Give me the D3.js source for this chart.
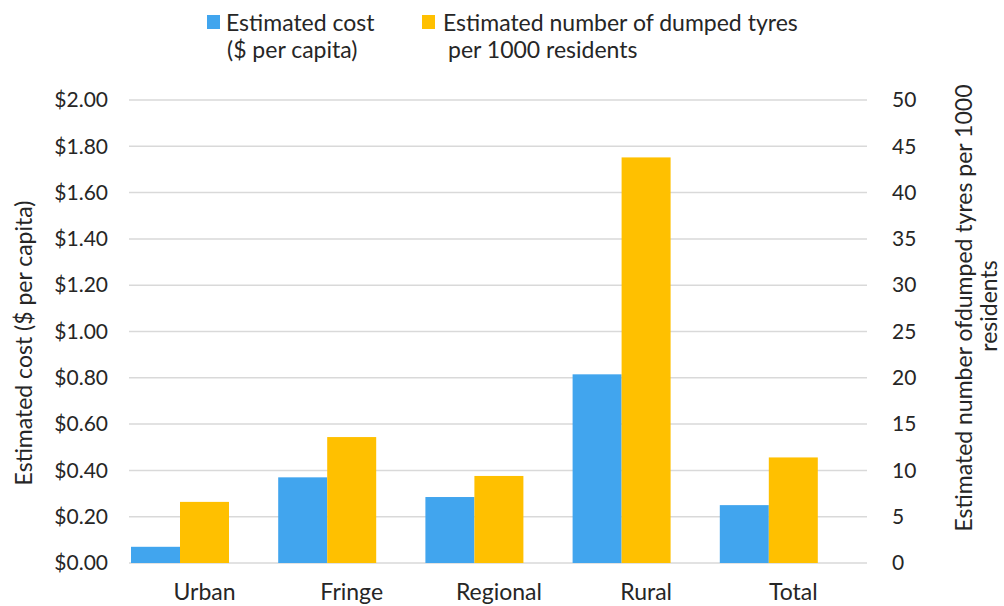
<!DOCTYPE html>
<html><head><meta charset="utf-8">
<script src="https://cdn.jsdelivr.net/npm/d3@7"></script>
<style>body{margin:0;background:#fff}svg text{font-family:Lato,"Open Sans",sans-serif;fill:#262626}</style>
</head><body><svg id="c" width="1004" height="606"></svg>
<script>
const categories = ["Urban","Fringe","Regional","Rural","Total"];
const costValues = [0.07, 0.37, 0.285, 0.815, 0.25];
const tyreValues = [6.6, 13.6, 9.4, 43.8, 11.4];
const leftTicks = [0,0.2,0.4,0.6,0.8,1.0,1.2,1.4,1.6,1.8,2.0];
const rightTicks = [0,5,10,15,20,25,30,35,40,45,50];

const svg = d3.select("#c");
const L = 131, R = 867, T = 100, B = 563;
const fs = 23, tfs = 21;
const x0 = d3.scaleBand().domain(categories).range([L, R]).padding(0);
const x1 = d3.scaleBand().domain(["cost","tyres"]).range([0, 98]).padding(0);
const yL = d3.scaleLinear().domain([0,2]).range([B,T]);
const yR = d3.scaleLinear().domain([0,50]).range([B,T]);

// gridlines
svg.append("g").selectAll("line").data(leftTicks).join("line")
  .attr("x1",L-2).attr("x2",R).attr("y1",d=>yL(d)).attr("y2",d=>yL(d))
  .attr("stroke","#d9d9d9").attr("stroke-width",1.5);

// left axis
const ax = d3.axisLeft(yL).tickValues(leftTicks).tickSize(0).tickPadding(0).tickFormat(d=>"$"+d3.format(".2f")(d));
const gL = svg.append("g").attr("transform",`translate(108,0)`).call(ax);
gL.select(".domain").remove();
gL.selectAll("text").attr("font-size",tfs).attr("font-family","Lato").attr("fill","#262626");
const axR = d3.axisRight(yR).tickValues(rightTicks).tickSize(0).tickPadding(0);
const gR = svg.append("g").attr("transform",`translate(892,0)`).call(axR);
gR.select(".domain").remove();
gR.selectAll("text").attr("font-size",tfs).attr("font-family","Lato").attr("fill","#262626");

// bars
const g = svg.append("g");
g.selectAll("rect.cost").data(categories).join("rect").attr("class","cost")
  .attr("x",c=>x0(c)+x1("cost")).attr("width",x1.bandwidth())
  .attr("y",(c,i)=>yL(costValues[i])).attr("height",(c,i)=>B-yL(costValues[i]))
  .attr("fill","#41a5ee");
g.selectAll("rect.tyres").data(categories).join("rect").attr("class","tyres")
  .attr("x",c=>x0(c)+x1("tyres")).attr("width",x1.bandwidth())
  .attr("y",(c,i)=>yR(tyreValues[i])).attr("height",(c,i)=>B-yR(tyreValues[i]))
  .attr("fill","#ffc000");

// category labels
svg.append("g").selectAll("text").data(categories).join("text")
  .attr("x",c=>x0(c)+x1("tyres")+x1.bandwidth()/2).attr("y",600)
  .attr("text-anchor","middle").attr("font-size",fs).text(d=>d);

// axis titles
svg.append("text").attr("transform","translate(32,343) rotate(-90)")
  .attr("text-anchor","middle").attr("font-size",fs).text("Estimated cost ($ per capita)");
svg.append("text").attr("transform","translate(972,308) rotate(-90)")
  .attr("text-anchor","middle").attr("font-size",fs).text("Estimated number ofdumped tyres per 1000");
svg.append("text").attr("transform","translate(997,306) rotate(-90)")
  .attr("text-anchor","middle").attr("font-size",fs).text("residents");

// legend
const lg = svg.append("g");
lg.append("rect").attr("x",207).attr("y",15).attr("width",13).attr("height",14).attr("fill","#41a5ee");
lg.append("text").attr("x",226).attr("y",31).attr("font-size",fs).text("Estimated cost");
lg.append("text").attr("x",227).attr("y",58).attr("font-size",fs).text("($ per capita)");
lg.append("rect").attr("x",422).attr("y",15).attr("width",13).attr("height",14).attr("fill","#ffc000");
lg.append("text").attr("x",443).attr("y",31).attr("font-size",fs).text("Estimated number of dumped tyres");
lg.append("text").attr("x",448).attr("y",58).attr("font-size",fs).text("per 1000 residents");
</script></body></html>
